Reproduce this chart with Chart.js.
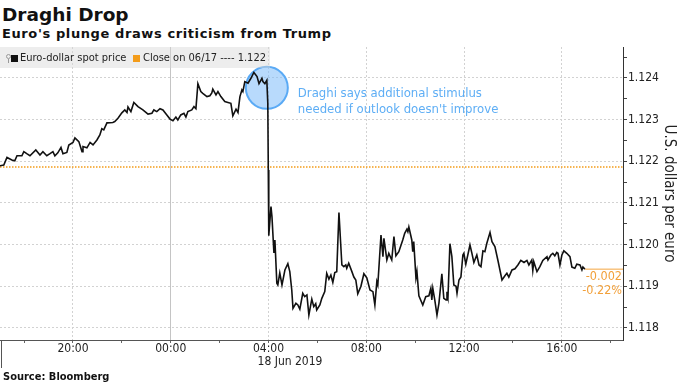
<!DOCTYPE html>
<html lang="en">
<head>
<meta charset="UTF-8">
<title>Draghi Drop</title>
<script src="https://cdn.jsdelivr.net/npm/chart.js"></script>
<style>
  body { margin: 0; width: 680px; height: 383px; position: relative; overflow: hidden; background: #fff; font-family: "DejaVu Sans", sans-serif; color: #111; }
  #chart { position: absolute; left: 0; top: 0; }
  .title { position: absolute; left: 2px; top: 6px; font-weight: bold; font-size: 18.5px; line-height: 1; white-space: nowrap; }
  .subtitle { position: absolute; left: 2px; top: 27px; font-weight: bold; font-size: 13px; line-height: 1; letter-spacing: 0.6px; white-space: nowrap; }
  .source { position: absolute; left: 3px; top: 371px; font-family: "DejaVu Sans Condensed", "DejaVu Sans", sans-serif; font-weight: bold; font-size: 11px; line-height: 1; }
  .legend { position: absolute; left: 0; top: 47px; width: 270px; height: 21px; background: rgba(215,215,215,0.45); font-family: "DejaVu Sans Condensed", "DejaVu Sans", sans-serif; font-size: 11px; color: #222; }
  .legend span { position: absolute; white-space: nowrap; }
  .legend .txt { top: 3px; line-height: 16px; }
  .legend .sw { top: 8px; width: 7px; height: 7px; }
  .pin { left: 6px; top: 7px; width: 3px; height: 3px; border: 1px solid #999; border-radius: 50%; }
  .stem { left: 8px; top: 12px; width: 1px; height: 4px; background: #999; }
</style>
</head>
<body>
<div class="title">Draghi Drop</div>
<div class="subtitle">Euro's plunge draws criticism from Trump</div>
<canvas id="chart" width="680" height="383"></canvas>
<div class="legend">
  <span class="pin"></span><span class="stem"></span>
  <span class="sw" style="left:11px;background:#111"></span>
  <span class="txt" style="left:20px">Euro-dollar spot price</span>
  <span class="sw" style="left:133px;background:#f39c1a"></span>
  <span class="txt" style="left:143px">Close on 06/17 ---- 1.122</span>
</div>
<div class="source">Source: Bloomberg</div>
<script>
// hours since 17 Jun 2019 00:00
const times = [17.01,17.17,17.30,17.50,17.62,17.71,17.91,17.99,18.11,18.24,
  18.48,18.65,18.77,18.93,19.06,19.18,19.26,19.38,19.51,19.59,
  19.75,19.83,20.00,20.08,20.24,20.37,20.41,20.57,20.70,20.82,
  20.98,21.10,21.18,21.26,21.39,21.63,21.71,21.84,22.00,22.12,
  22.21,22.25,22.37,22.49,22.66,22.86,23.07,23.23,23.31,23.43,
  23.56,23.68,23.84,23.97,24.09,24.21,24.29,24.41,24.54,24.62,
  24.70,24.86,24.95,25.03,25.11,25.23,25.31,25.48,25.60,25.68,
  25.72,25.85,25.93,26.05,26.21,26.34,26.46,26.54,26.67,26.75,
  26.83,26.91,26.95,27.03,27.16,27.28,27.40,27.53,27.61,27.73,
  27.77,27.85,27.93,27.97,27.99,28.01,28.10,28.14,28.22,28.26,
  28.34,28.38,28.46,28.55,28.67,28.79,28.87,28.95,29.00,29.12,
  29.20,29.28,29.40,29.48,29.57,29.65,29.77,29.85,29.93,29.97,
  30.10,30.18,30.30,30.38,30.47,30.55,30.63,30.71,30.79,30.88,
  31.00,31.08,31.16,31.20,31.28,31.41,31.49,31.57,31.65,31.78,
  31.90,32.02,32.15,32.27,32.35,32.43,32.47,32.60,32.68,32.72,
  32.84,32.92,33.04,33.13,33.21,33.33,33.49,33.57,33.66,33.70,
  33.74,33.86,33.90,33.94,34.03,34.07,34.15,34.31,34.43,34.56,
  34.64,34.68,34.72,34.80,34.89,34.97,35.09,35.17,35.26,35.30,
  35.34,35.42,35.50,35.58,35.67,35.71,35.79,35.87,35.95,35.99,
  36.07,36.24,36.32,36.40,36.52,36.61,36.69,36.77,36.85,36.93,
  37.06,37.14,37.26,37.38,37.55,37.67,37.75,37.83,37.96,38.08,
  38.20,38.32,38.45,38.57,38.65,38.77,38.81,38.85,38.98,39.10,
  39.22,39.39,39.43,39.55,39.63,39.71,39.79,39.84,39.92,40.00,
  40.08,40.20,40.33,40.41,40.53,40.61,40.74,40.82,40.86,40.94];

const prices = [1.12189,1.12191,1.12209,1.12203,1.12201,1.12213,1.12213,1.12223,1.12218,1.12213,
  1.12227,1.12215,1.12223,1.12213,1.12218,1.12223,1.12213,1.12220,1.12233,1.12218,
  1.12221,1.12239,1.12245,1.12256,1.12247,1.12223,1.12235,1.12232,1.12245,1.12239,
  1.12251,1.12263,1.12278,1.12275,1.12292,1.12293,1.12295,1.12303,1.12316,1.12323,
  1.12317,1.12330,1.12319,1.12341,1.12331,1.12323,1.12313,1.12315,1.12323,1.12319,
  1.12326,1.12323,1.12311,1.12301,1.12297,1.12306,1.12299,1.12311,1.12315,1.12306,
  1.12319,1.12323,1.12331,1.12326,1.12386,1.12367,1.12363,1.12355,1.12357,1.12364,
  1.12373,1.12359,1.12367,1.12355,1.12343,1.12341,1.12339,1.12309,1.12325,1.12317,
  1.12355,1.12371,1.12367,1.12391,1.12387,1.12399,1.12413,1.12403,1.12386,1.12399,
  1.12391,1.12386,1.12394,1.12339,1.12179,1.12021,1.12091,1.12067,1.11980,1.12011,
  1.11907,1.11903,1.11932,1.11903,1.11939,1.11954,1.11935,1.11891,1.11847,1.11859,
  1.11855,1.11845,1.11883,1.11875,1.11879,1.11831,1.11869,1.11851,1.11858,1.11843,
  1.11855,1.11871,1.11887,1.11931,1.11917,1.11927,1.11909,1.11933,1.11935,1.12077,
  1.11951,1.11947,1.11951,1.11943,1.11955,1.11935,1.11922,1.11915,1.11882,1.11900,
  1.11930,1.11920,1.11891,1.11887,1.11855,1.11911,1.11903,1.12023,1.11971,1.12015,
  1.11963,1.11979,1.11963,1.12019,1.11973,1.11983,1.12011,1.12027,1.12037,1.12031,
  1.12042,1.12011,1.11983,1.12007,1.11920,1.11935,1.11877,1.11855,1.11875,1.11877,
  1.11895,1.11867,1.11895,1.11867,1.11831,1.11859,1.11930,1.11871,1.11867,1.11887,
  1.11874,1.12002,1.11971,1.11903,1.11900,1.11883,1.11915,1.11922,1.11975,1.11979,
  1.11953,1.11999,1.11979,1.11957,1.11975,1.11951,1.11947,1.11985,1.11983,1.12003,
  1.12029,1.12007,1.11995,1.11963,1.11915,1.11925,1.11931,1.11922,1.11939,1.11942,
  1.11951,1.11962,1.11957,1.11962,1.11951,1.11963,1.11938,1.11959,1.11935,1.11947,
  1.11962,1.11971,1.11963,1.11975,1.11979,1.11973,1.11981,1.11979,1.11951,1.11975,
  1.11985,1.11979,1.11971,1.11946,1.11943,1.11953,1.11951,1.11939,1.11946,1.11941];

const closePrice = 1.12186;           // close on 06/17
const changeLabels = ['-0.002', '-0.22%'];
const eventTime = 27.93, eventPrice = 1.12376;
const eventNote = ['Draghi says additional stimulus', "needed if outlook doesn't improve"];
const dateLabel = '18 Jun 2019';
const xMin = 17.015, xMax = 42.5;
const yMin = 1.11771, yMax = 1.12474;

const narrow = "'DejaVu Sans Condensed', 'DejaVu Sans', sans-serif";
Chart.defaults.font.family = narrow;

const lastTime = times[times.length - 1];
const lastPrice = prices[prices.length - 1];
const isMajorY = v => Math.round(v * 2000) % 2 === 0;

const overlay = {
  id: 'overlay',
  beforeDatasetsDraw(chart) {
    const { ctx, scales: { x, y } } = chart;
    const cx = x.getPixelForValue(eventTime), cy = y.getPixelForValue(eventPrice);
    ctx.save();
    ctx.beginPath();
    ctx.arc(cx, cy, 21, 0, Math.PI * 2);
    ctx.fillStyle = 'rgba(125,188,250,0.55)';
    ctx.fill();
    ctx.lineWidth = 2;
    ctx.strokeStyle = '#5aaaf5';
    ctx.stroke();
    ctx.restore();
  },
  afterDraw(chart) {
    const { ctx, scales: { x, y }, chartArea } = chart;
    const cx = x.getPixelForValue(eventTime), cy = y.getPixelForValue(eventPrice);
    ctx.save();
    ctx.textBaseline = 'middle';
    ctx.font = '13px ' + narrow;
    ctx.fillStyle = '#5eaef5';
    ctx.textAlign = 'left';
    eventNote.forEach((t, i) => ctx.fillText(t, cx + 31, cy + 6 + i * 16));

    const ly = y.getPixelForValue(lastPrice);
    ctx.font = '12.5px ' + narrow;
    ctx.fillStyle = '#f2a03a';
    ctx.textAlign = 'right';
    changeLabels.forEach((t, i) => ctx.fillText(t, chartArea.right - 1, ly + 8 + i * 14));

    ctx.font = '12px ' + narrow;
    ctx.fillStyle = '#222';
    ctx.textAlign = 'left';
    ctx.fillText(dateLabel, x.getPixelForValue(28) - 11, chartArea.bottom + 22);

    ctx.strokeStyle = '#555';
    ctx.lineWidth = 1;
    ctx.beginPath();
    ctx.moveTo(1.5, chartArea.bottom);
    ctx.lineTo(1.5, chartArea.bottom + 28);
    ctx.stroke();
    ctx.restore();
  }
};

new Chart(document.getElementById('chart'), {
  type: 'line',
  data: {
    datasets: [
      {
        label: 'Euro-dollar spot price',
        data: times.map((t, i) => ({ x: t, y: prices[i] })),
        borderColor: '#111',
        borderWidth: 1.6,
        pointRadius: 0,
        tension: 0
      },
      {
        label: 'Close on 06/17',
        data: [{ x: xMin, y: closePrice }, { x: xMax, y: closePrice }],
        borderColor: '#f39c1a',
        borderWidth: 1.5,
        borderDash: [1.5, 1.5],
        pointRadius: 0
      },
      {
        label: 'change',
        data: [{ x: lastTime, y: lastPrice }, { x: xMax, y: lastPrice }],
        borderColor: '#f4a540',
        borderWidth: 1,
        pointRadius: 0
      }
    ]
  },
  options: {
    responsive: false,
    animation: false,
    layout: { padding: { top: 47, left: 0, right: 0, bottom: 0 } },
    plugins: { legend: { display: false }, tooltip: { enabled: false } },
    scales: {
      x: {
        type: 'linear',
        min: xMin,
        max: xMax,
        afterFit: s => { s.height = 43; },
        ticks: {
          stepSize: 2,
          includeBounds: false,
          autoSkip: false,
          maxRotation: 0,
          padding: 0,
          color: '#222',
          font: { size: 12, lineHeight: 1 },
          callback: v => v % 4 === 0 ? String(v % 24).padStart(2, '0') + ':00' : ''
        },
        grid: {
          color: c => !c.tick || c.tick.value % 4 !== 0 ? 'rgba(0,0,0,0)' : (c.tick.value % 24 === 0 ? '#c4c4c4' : '#d2d2d2'),
          tickColor: '#666',
          tickLength: 3
        },
        border: {
          color: '#555',
          dash: c => (c.tick && c.tick.value % 24 !== 0) ? [2, 2] : []
        }
      },
      y: {
        type: 'linear',
        position: 'right',
        min: yMin,
        max: yMax,
        afterFit: s => { s.width = 57; },
        ticks: {
          stepSize: 0.0005,
          includeBounds: false,
          autoSkip: false,
          padding: 1,
          color: '#222',
          font: { size: 12 },
          callback: v => isMajorY(v) ? v.toFixed(3) : ''
        },
        grid: {
          color: c => c.tick && isMajorY(c.tick.value) ? '#d2d2d2' : 'rgba(0,0,0,0)',
          tickColor: '#444',
          tickLength: 4
        },
        border: { color: '#333', dash: [2, 2] },
        title: {
          display: true,
          text: 'U.S. dollars per euro',
          color: '#222',
          font: { size: 15 },
          padding: { top: 2, bottom: 0 }
        }
      }
    }
  },
  plugins: [overlay]
});
</script>
</body>
</html>
